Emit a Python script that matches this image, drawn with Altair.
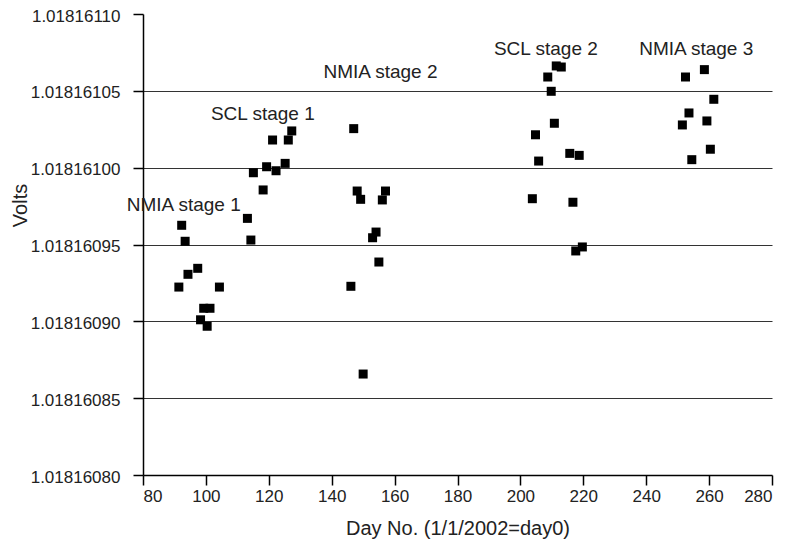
import altair as alt
import pandas as pd

# Day numbers and volt readings per measurement stage
nmia1_day = [92.3, 93.4, 97.4, 94.3, 91.4, 104.3, 99.3, 101.3, 98.3, 100.4]
nmia1_v = [1.0181609625, 1.0181609521, 1.0181609345, 1.0181609306, 1.0181609223,
           1.0181609223, 1.0181609085, 1.0181609085, 1.0181609010, 1.0181608968]

scl1_day = [113.2, 114.3, 115.1, 118.2, 119.3, 122.3, 121.2, 125.2, 126.2, 127.3]
scl1_v = [1.0181609670, 1.0181609529, 1.0181609967, 1.0181609855, 1.0181610006,
          1.0181609980, 1.0181610180, 1.0181610028, 1.0181610180, 1.0181610239]

nmia2_day = [147.0, 148.1, 149.2, 157.1, 156.1, 154.1, 153.0, 155.0, 146.1, 150.0]
nmia2_v = [1.0181610254, 1.0181609848, 1.0181609794, 1.0181609848, 1.0181609790,
           1.0181609581, 1.0181609544, 1.0181609386, 1.0181609228, 1.0181608657]

scl2_day = [203.8, 204.8, 205.8, 208.7, 209.8, 210.8, 211.4, 213.0, 215.7, 216.7,
            218.7, 217.6, 219.7]
scl2_v = [1.0181609798, 1.0181610214, 1.0181610043, 1.0181610590, 1.0181610497,
          1.0181610289, 1.0181610662, 1.0181610655, 1.0181610093, 1.0181609775,
          1.0181610080, 1.0181609458, 1.0181609484]

nmia3_day = [252.5, 258.5, 261.5, 253.6, 251.5, 259.3, 260.4, 254.5]
nmia3_v = [1.0181610590, 1.0181610638, 1.0181610445, 1.0181610356, 1.0181610278,
           1.0181610304, 1.0181610120, 1.0181610052]

stage_labels = ["NMIA stage 1", "SCL stage 1", "NMIA stage 2", "SCL stage 2", "NMIA stage 3"]
label_day = [92.95, 118.1, 155.5, 208.1, 255.9]
label_v = [1.0181609718, 1.0181610310, 1.0181610583, 1.0181610733, 1.0181610733]

x_ticks = list(range(80, 281, 10))
y_ticks = [round(1.0181608 + i * 0.000000025, 10) for i in range(13)]

points = pd.DataFrame({
    "day": nmia1_day + scl1_day + nmia2_day + scl2_day + nmia3_day,
    "volts": nmia1_v + scl1_v + nmia2_v + scl2_v + nmia3_v,
})
labels = pd.DataFrame({"label": stage_labels, "day": label_day, "volts": label_v})

FONT = "Liberation Sans"
YMAJOR = "round(datum.value*1e9) % 50 == 0"

x_enc = alt.X(
    "day:Q",
    scale=alt.Scale(domain=[80, 280], nice=False, zero=False),
    axis=alt.Axis(
        values=x_ticks,
        title="Day No. (1/1/2002=day0)",
        labelExpr="datum.value % 20 == 0 ? datum.label : ''",
        tickSize={"condition": {"test": "datum.value % 20 == 0", "value": 10}, "value": 5},
        grid=False,
        domainColor="black", tickColor="black", domainWidth=1.5, tickWidth=1.5,
        labelFontSize=17, labelColor="#222", labelPadding=3, labelFont=FONT,
        titleFontSize=20, titleFontWeight="normal", titleColor="#222", titleFont=FONT,
        titlePadding=14,
    ),
)
y_enc = alt.Y(
    "volts:Q",
    scale=alt.Scale(domain=[1.0181608, 1.0181611], nice=False, zero=False),
    axis=alt.Axis(
        values=y_ticks,
        title="Volts",
        labelExpr=YMAJOR + " ? format(datum.value, '.8f') : ''",
        tickSize={"condition": {"test": YMAJOR, "value": 10}, "value": 5},
        grid=True,
        gridColor="#333",
        gridWidth=1,
        gridOpacity={"condition": {"test": YMAJOR + " && datum.value > 1.01816081 && datum.value < 1.01816109",
                                    "value": 1}, "value": 0},
        domainColor="black", tickColor="black", domainWidth=1.5, tickWidth=1.5,
        labelFontSize=17, labelColor="#222", labelPadding=13, labelFont=FONT,
        labelOffset=2,
        titleFontSize=20, titleFontWeight="normal", titleColor="#222", titleFont=FONT,
        titleX=-113, titleY=191,
    ),
)

pts = alt.Chart(points).mark_square(size=81, color="black", opacity=1, filled=True).encode(
    x=x_enc, y=y_enc
)

txt = alt.Chart(labels).mark_text(
    fontSize=19, font=FONT, color="#222", align="center", baseline="alphabetic"
).encode(x="day:Q", y="volts:Q", text="label:N")

chart = alt.layer(pts, txt).properties(
    width=629, height=461,
    autosize=alt.AutoSizeParams(type="none"),
    padding={"left": 135, "top": 6, "right": 9, "bottom": 69},
).configure_view(stroke=None)

chart.save("out.html", embed_options={"renderer": "svg", "actions": False})
